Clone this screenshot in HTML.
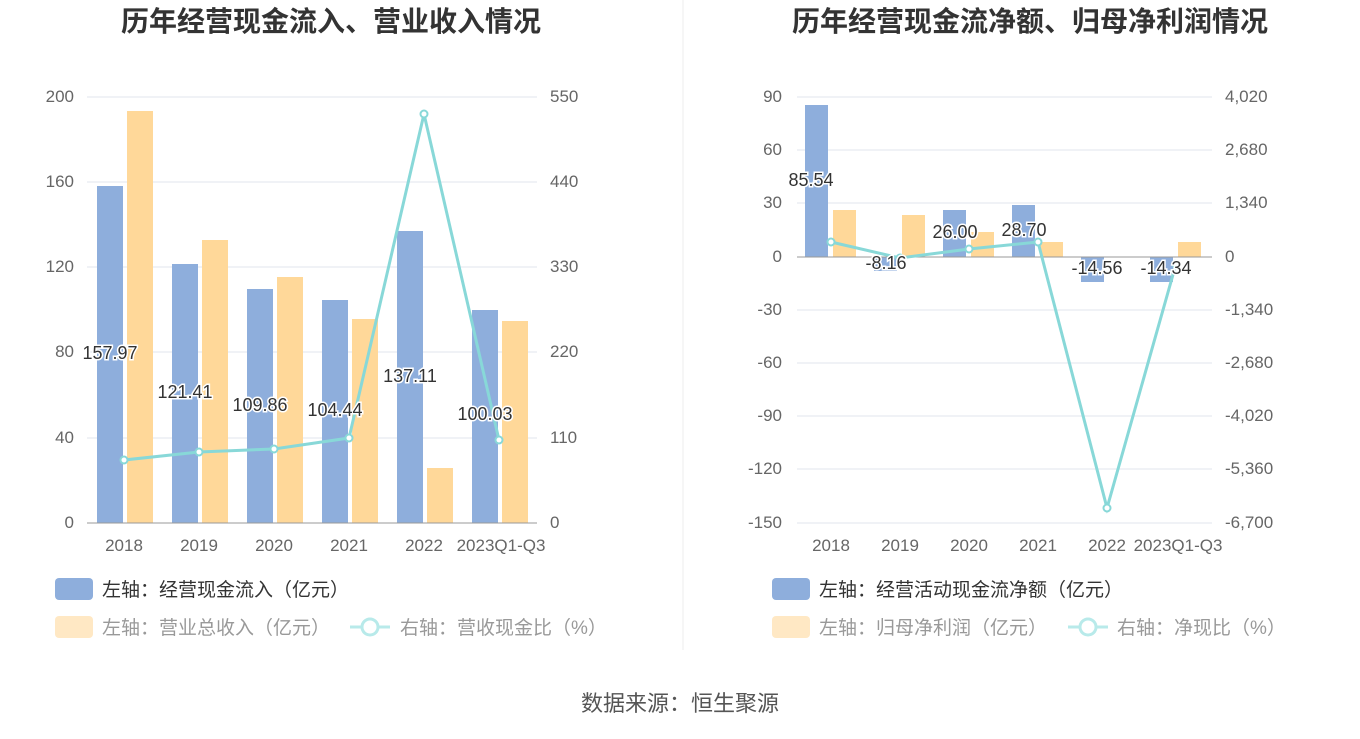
<!DOCTYPE html>
<html><head><meta charset="utf-8"><style>
body{margin:0;background:#fff;width:1360px;height:734px;overflow:hidden;font-family:"Liberation Sans","Noto Sans CJK SC",sans-serif}
svg text{font-family:"Liberation Sans","Noto Sans CJK SC",sans-serif}
</style></head><body>
<svg width="1360" height="734" xmlns="http://www.w3.org/2000/svg">
<line x1="683" y1="0" x2="683" y2="650" stroke="#eee"/>
<text x="331" y="31" font-size="28" font-weight="bold" fill="#333" text-anchor="middle">历年经营现金流入、营业收入情况</text>
<text x="1030" y="31" font-size="28" font-weight="bold" fill="#333" text-anchor="middle">历年经营现金流净额、归母净利润情况</text>
<g stroke="#e0e4ee">
<line x1="87" x2="537" y1="97" y2="97"/><line x1="87" x2="537" y1="182" y2="182"/><line x1="87" x2="537" y1="267" y2="267"/><line x1="87" x2="537" y1="352" y2="352"/><line x1="87" x2="537" y1="438" y2="438"/>
<line x1="797" x2="1212" y1="97" y2="97"/><line x1="797" x2="1212" y1="150" y2="150"/><line x1="797" x2="1212" y1="203" y2="203"/><line x1="797" x2="1212" y1="310" y2="310"/><line x1="797" x2="1212" y1="363" y2="363"/><line x1="797" x2="1212" y1="416" y2="416"/><line x1="797" x2="1212" y1="469" y2="469"/><line x1="797" x2="1212" y1="523" y2="523"/>
</g>
<g font-size="17" fill="#666">
<text x="74" y="102" text-anchor="end">200</text><text x="74" y="187" text-anchor="end">160</text><text x="74" y="272" text-anchor="end">120</text><text x="74" y="357" text-anchor="end">80</text><text x="74" y="443" text-anchor="end">40</text><text x="74" y="528" text-anchor="end">0</text>
<text x="550" y="102">550</text><text x="550" y="187">440</text><text x="550" y="272">330</text><text x="550" y="357">220</text><text x="550" y="443">110</text><text x="550" y="528">0</text>
<text x="124" y="551" text-anchor="middle">2018</text><text x="199" y="551" text-anchor="middle">2019</text><text x="274" y="551" text-anchor="middle">2020</text><text x="349" y="551" text-anchor="middle">2021</text><text x="424" y="551" text-anchor="middle">2022</text><text x="501" y="551" text-anchor="middle">2023Q1-Q3</text>
<text x="782" y="102" text-anchor="end">90</text><text x="782" y="155" text-anchor="end">60</text><text x="782" y="208" text-anchor="end">30</text><text x="782" y="262" text-anchor="end">0</text><text x="782" y="315" text-anchor="end">-30</text><text x="782" y="368" text-anchor="end">-60</text><text x="782" y="421" text-anchor="end">-90</text><text x="782" y="474" text-anchor="end">-120</text><text x="782" y="528" text-anchor="end">-150</text>
<text x="1225" y="102">4,020</text><text x="1225" y="155">2,680</text><text x="1225" y="208">1,340</text><text x="1225" y="262">0</text><text x="1225" y="315">-1,340</text><text x="1225" y="368">-2,680</text><text x="1225" y="421">-4,020</text><text x="1225" y="474">-5,360</text><text x="1225" y="528">-6,700</text>
<text x="831" y="551" text-anchor="middle">2018</text><text x="900" y="551" text-anchor="middle">2019</text><text x="969" y="551" text-anchor="middle">2020</text><text x="1038" y="551" text-anchor="middle">2021</text><text x="1107" y="551" text-anchor="middle">2022</text><text x="1178" y="551" text-anchor="middle">2023Q1-Q3</text>
</g>
<g fill="#8eaedc">
<rect x="97" y="186" width="26" height="337"/><rect x="172" y="264" width="26" height="259"/><rect x="247" y="289" width="26" height="234"/><rect x="322" y="300" width="26" height="223"/><rect x="397" y="231" width="26" height="292"/><rect x="472" y="310" width="26" height="213"/>
<rect x="805" y="105" width="23" height="152"/><rect x="874" y="257" width="23" height="14"/><rect x="943" y="210" width="23" height="47"/><rect x="1012" y="205" width="23" height="52"/><rect x="1081" y="257" width="23" height="25"/><rect x="1150" y="257" width="23" height="25"/>
</g>
<g fill="#ffd899">
<rect x="127" y="111" width="26" height="412"/><rect x="202" y="240" width="26" height="283"/><rect x="277" y="277" width="26" height="246"/><rect x="352" y="319" width="26" height="204"/><rect x="427" y="468" width="26" height="55"/><rect x="502" y="321" width="26" height="202"/>
<rect x="833" y="210" width="23" height="47"/><rect x="902" y="215" width="23" height="42"/><rect x="971" y="232" width="23" height="25"/><rect x="1040" y="242" width="23" height="15"/><rect x="1178" y="242" width="23" height="15"/>
</g>
<line x1="87" x2="537" y1="523" y2="523" stroke="#999"/>
<line x1="797" x2="1212" y1="257" y2="257" stroke="#999"/>
<polyline points="124,460 199,452 274,449 349,438 424,114 499,440" fill="none" stroke="#88d8d8" stroke-width="3"/>
<polyline points="831,242 900,258 969,249 1038,242 1107,508 1176,264" fill="none" stroke="#88d8d8" stroke-width="3"/>
<g fill="#fff" stroke="#88d8d8" stroke-width="2">
<circle cx="124" cy="460" r="3.5"/><circle cx="199" cy="452" r="3.5"/><circle cx="274" cy="449" r="3.5"/><circle cx="349" cy="438" r="3.5"/><circle cx="424" cy="114" r="3.5"/><circle cx="499" cy="440" r="3.5"/>
<circle cx="831" cy="242" r="3.5"/><circle cx="900" cy="258" r="3.5"/><circle cx="969" cy="249" r="3.5"/><circle cx="1038" cy="242" r="3.5"/><circle cx="1107" cy="508" r="3.5"/><circle cx="1176" cy="264" r="3.5"/>
</g>
<g font-size="18" fill="#333" stroke="#fff" stroke-width="3" paint-order="stroke" text-anchor="middle">
<text x="110" y="359">157.97</text><text x="185" y="398">121.41</text><text x="260" y="411">109.86</text><text x="335" y="416">104.44</text><text x="410" y="382">137.11</text><text x="485" y="420">100.03</text>
<text x="811" y="186">85.54</text><text x="886" y="269">-8.16</text><text x="955" y="238">26.00</text><text x="1024" y="236">28.70</text><text x="1097" y="274">-14.56</text><text x="1166" y="274">-14.34</text>
</g>
<g font-size="19" fill="#333">
<rect x="55" y="578" width="38" height="22" rx="4" fill="#8eaedc"/><text x="102" y="596">左轴：经营现金流入（亿元）</text>
<rect x="55" y="616" width="38" height="22" rx="4" fill="#ffe8c4"/><text x="102" y="634" fill="#999">左轴：营业总收入（亿元）</text>
<line x1="350" x2="390" y1="627" y2="627" stroke="#b8eaea" stroke-width="3"/><circle cx="370" cy="627" r="8" fill="#fff" stroke="#b8eaea" stroke-width="3"/><text x="400" y="634" fill="#999">右轴：营收现金比（%）</text>
<rect x="772" y="578" width="38" height="22" rx="4" fill="#8eaedc"/><text x="819" y="596">左轴：经营活动现金流净额（亿元）</text>
<rect x="772" y="616" width="38" height="22" rx="4" fill="#ffe8c4"/><text x="819" y="634" fill="#999">左轴：归母净利润（亿元）</text>
<line x1="1068" x2="1108" y1="627" y2="627" stroke="#b8eaea" stroke-width="3"/><circle cx="1088" cy="627" r="8" fill="#fff" stroke="#b8eaea" stroke-width="3"/><text x="1117" y="634" fill="#999">右轴：净现比（%）</text>
<text x="680" y="711" text-anchor="middle" fill="#555" font-size="22">数据来源：恒生聚源</text>
</g>
</svg>
</body></html>
